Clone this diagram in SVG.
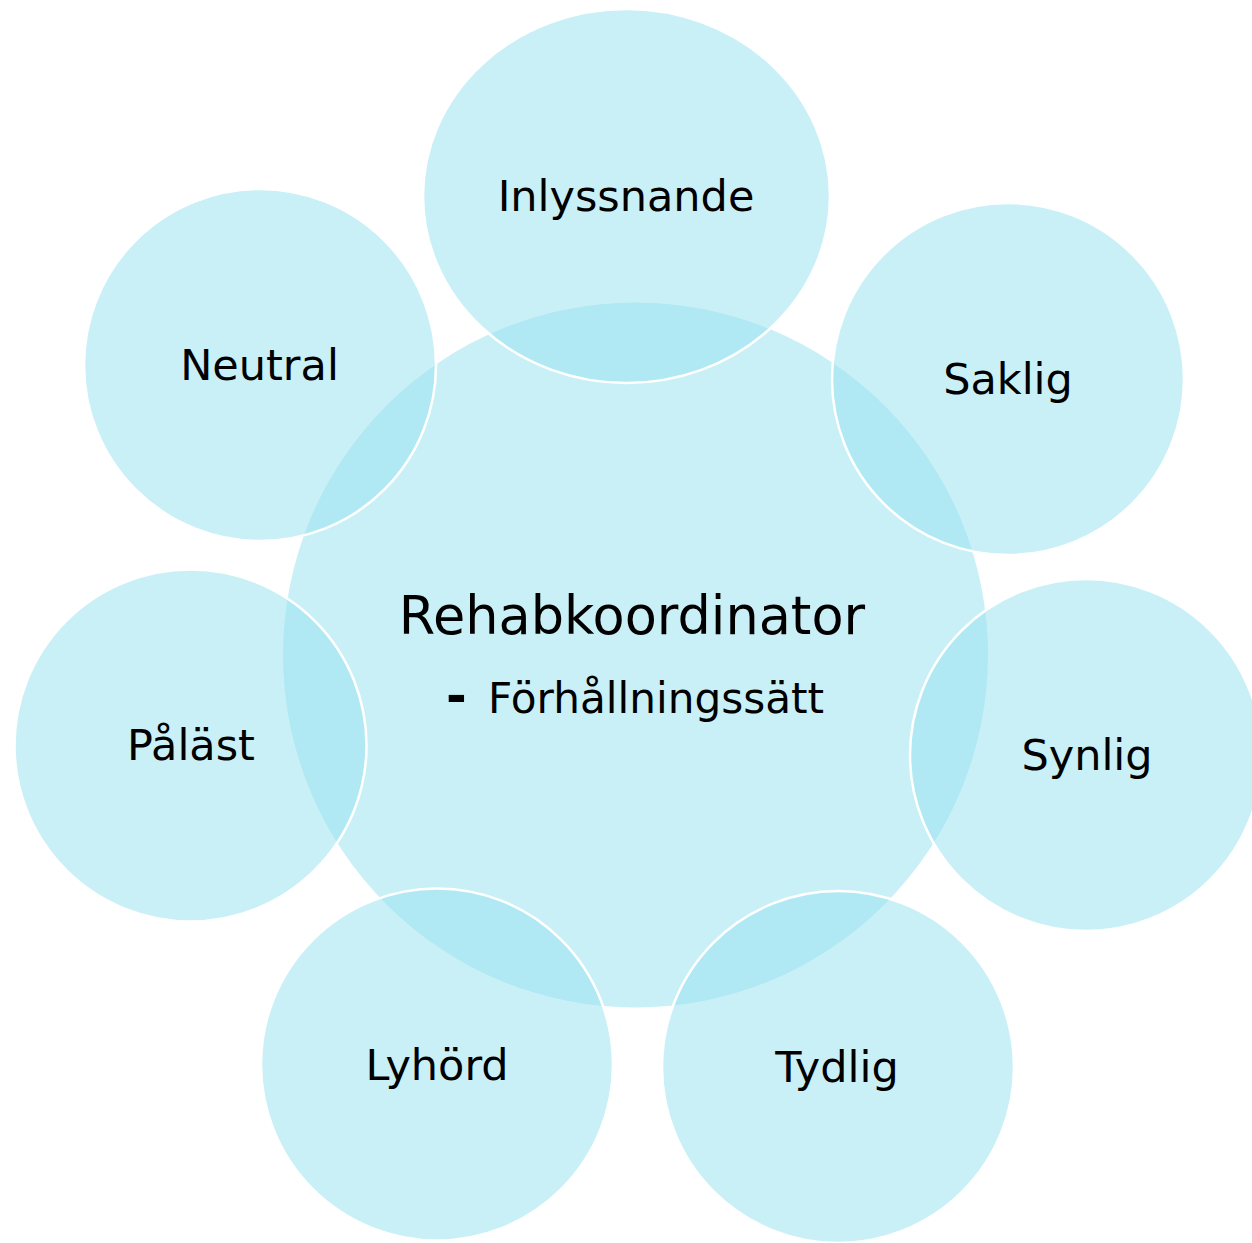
<svg xmlns="http://www.w3.org/2000/svg" width="1252" height="1243" viewBox="0 0 1252 1243">
  <style>
    .bubble { fill: #95e1ef; fill-opacity: 0.5; }
    .outer { stroke: #ffffff; stroke-width: 2.5; }
    .lbl { font-family: "DejaVu Sans", Verdana, sans-serif; font-size: 43px; fill: #000000; text-anchor: middle; }
    .title { font-family: "DejaVu Sans", Verdana, sans-serif; font-size: 52.5px; fill: #000000; text-anchor: middle; }
    .sub { font-family: "DejaVu Sans", Verdana, sans-serif; font-size: 42.2px; fill: #000000; }
  </style>
  <rect width="1252" height="1243" fill="#ffffff"/>
  <g id="center">
    <circle class="bubble" cx="635.5" cy="655" r="352.5"/>
    <text class="title" x="632" y="634">Rehabkoordinator</text>
    <text class="sub" y="713"><tspan x="446" font-weight="bold" font-size="50">-</tspan><tspan x="488">Förhållningssätt</tspan></text>
  </g>
  <g id="connectors"></g>
  <g id="node-inlyssnande">
    <ellipse class="bubble outer" cx="626.5" cy="196" rx="203.5" ry="187"/>
    <text class="lbl" x="626" y="211">Inlyssnande</text>
  </g>
  <g id="node-saklig">
    <circle class="bubble outer" cx="1008" cy="379" r="176"/>
    <text class="lbl" x="1008" y="394">Saklig</text>
  </g>
  <g id="node-synlig">
    <circle class="bubble outer" cx="1086" cy="755" r="176"/>
    <text class="lbl" x="1087" y="770">Synlig</text>
  </g>
  <g id="node-tydlig">
    <circle class="bubble outer" cx="838" cy="1067" r="176"/>
    <text class="lbl" x="837" y="1082">Tydlig</text>
  </g>
  <g id="node-lyhord">
    <circle class="bubble outer" cx="437" cy="1064.5" r="176"/>
    <text class="lbl" x="437" y="1080">Lyhörd</text>
  </g>
  <g id="node-palast">
    <circle class="bubble outer" cx="190.5" cy="745.5" r="176"/>
    <text class="lbl" x="191" y="760">Påläst</text>
  </g>
  <g id="node-neutral">
    <circle class="bubble outer" cx="260" cy="365" r="176"/>
    <text class="lbl" x="259.5" y="380">Neutral</text>
  </g>
</svg>
